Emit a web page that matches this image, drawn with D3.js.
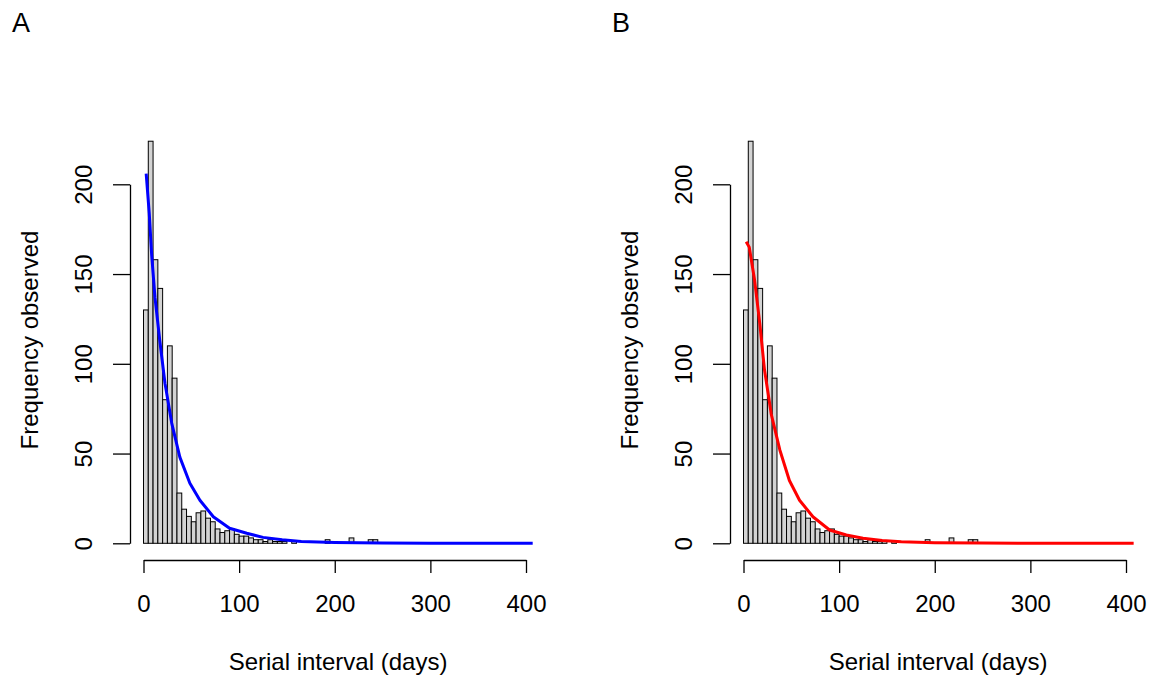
<!DOCTYPE html>
<html>
<head>
<meta charset="utf-8">
<script src="https://cdn.jsdelivr.net/npm/d3@7"></script>
<style>
  body { margin: 0; background: #fff; }
  svg { display: block; font-family: "Liberation Sans", Arial, sans-serif; }
</style>
</head>
<body>
<div id="chart"></div>
<script>

// histogram: 5-day bins starting at 0
let binWidth = 5;
let binCounts = [130, 224, 158, 142, 80, 110, 92, 28, 19, 15,
                 12, 17, 18, 14, 12, 8, 6, 7, 8, 5,
                 4, 4, 3, 2, 2, 1, 2, 1, 1, 1,
                 0, 1, 0, 0, 0, 0, 0, 0, 2, 0,
                 0, 0, 0, 3, 0, 0, 0, 2, 2];

// fitted curve, panel A
let curveDaysA = [2.8, 6, 8.5, 12, 17, 22.5, 29.5, 38, 48.5, 59, 73, 90, 108, 125, 145, 165, 200, 250, 300, 407];
let curveValsA = [206, 184, 161, 137, 113, 89, 67, 48, 33.5, 24, 14.8, 8.4, 5.6, 3.3, 2, 1, 0.4, 0.1, 0, 0];

// fitted curve, panel B
let curveDaysB = [2.8, 6, 11.5, 17, 22, 29, 38, 48, 58.6, 72.6, 90, 107.5, 125, 145, 165, 200, 250, 300, 408];
let curveValsB = [168, 165, 147, 122.5, 96.5, 72, 52, 35, 24, 14.8, 7.4, 4.6, 2.8, 1.5, 0.8, 0.3, 0.1, 0, 0];

let xTicks = [0, 100, 200, 300, 400];
let yTicks = [0, 50, 100, 150, 200];

let panels = [
    {label: "A", offset: 0, days: curveDaysA, vals: curveValsA, color: "#0000ff"},
    {label: "B", offset: 600, days: curveDaysB, vals: curveValsB, color: "#ff0000"}
];

let bins = binCounts.map((c, i) => ({x0: i * binWidth, x1: (i + 1) * binWidth, count: c}));

let svg = d3.select("#chart")
    .append("svg")
    .attr("width", 1152)
    .attr("height", 680);

panels.forEach(p => {
    let g = svg.append("g")
        .attr("transform", "translate(" + p.offset + ",0)");

    let x = d3.scaleLinear().domain([0, 400]).range([143.5, 526]);
    let y = d3.scaleLinear().domain([0, 200]).range([543.3, 184.3]);

    // bars
    g.selectAll("rect.bar")
        .data(bins)
        .enter().append("rect")
        .attr("class", "bar")
        .attr("x", d => x(d.x0))
        .attr("width", d => x(d.x1) - x(d.x0))
        .attr("y", d => y(d.count))
        .attr("height", d => y(0) - y(d.count))
        .attr("fill", "#d3d3d3")
        .attr("stroke", "#000")
        .attr("stroke-width", 1);

    // fitted curve
    let pts = p.days.map((d, i) => [d, p.vals[i]]);
    let line = d3.line()
        .x(d => x(d[0]))
        .y(d => y(d[1]));

    g.append("path")
        .datum(pts)
        .attr("d", line)
        .attr("fill", "none")
        .attr("stroke", p.color)
        .attr("stroke-width", 3)
        .attr("stroke-linejoin", "round");

    // x axis
    let xAxis = d3.axisBottom(x)
        .tickValues(xTicks)
        .tickSize(13)
        .tickSizeOuter(0)
        .tickPadding(22);

    let xg = g.append("g")
        .attr("transform", "translate(0,560)")
        .call(xAxis);

    // y axis
    let yAxis = d3.axisLeft(y)
        .tickValues(yTicks)
        .tickSize(17)
        .tickSizeOuter(0);

    let yg = g.append("g")
        .attr("transform", "translate(130,0)")
        .call(yAxis);

    yg.selectAll(".tick text")
        .attr("x", null)
        .attr("dy", null)
        .attr("text-anchor", "middle")
        .attr("transform", "translate(-38,0) rotate(-90)");

    [xg, yg].forEach(ag => {
        ag.attr("font-family", null).attr("font-size", null);
        ag.selectAll("path, line").attr("stroke", "#000").attr("stroke-width", 1.3);
        ag.selectAll("text").attr("fill", "#000").style("font-size", "24px");
    });

    // titles
    g.append("text")
        .attr("x", 338)
        .attr("y", 670)
        .attr("text-anchor", "middle")
        .style("font-size", "24px")
        .text("Serial interval (days)");

    g.append("text")
        .attr("transform", "translate(38,340) rotate(-90)")
        .attr("text-anchor", "middle")
        .style("font-size", "24px")
        .text("Frequency observed");

    g.append("text")
        .attr("x", 12)
        .attr("y", 32)
        .style("font-size", "27px")
        .text(p.label);
});

</script>
</body>
</html>
